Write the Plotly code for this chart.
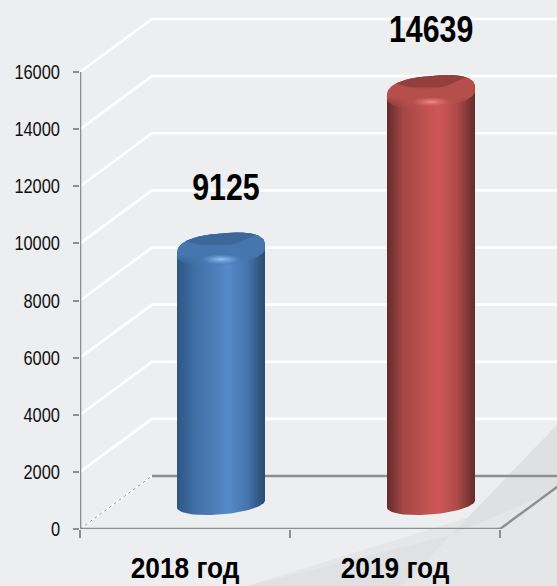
import numpy as np
import plotly.graph_objects as go

categories = ["2018 год", "2019 год"]
values = [9125, 14639]
y_ticks = [0, 2000, 4000, 6000, 8000, 10000, 12000, 14000, 16000]
label_x = [0.695, 1.672]
body_scales = [
    [[0, "#2C5685"], [0.18, "#3E6DA1"], [0.58, "#568AC9"], [0.8, "#4675AD"], [0.95, "#2F557F"], [1, "#2B4C72"]],
    [[0, "#662A2A"], [0.18, "#A34745"], [0.58, "#CF5856"], [0.8, "#AC4B48"], [0.95, "#743232"], [1, "#652C2C"]],
]
cap_colors = [("#3C6798", "rgba(70,118,174,0)"), ("#933F3E", "rgba(181,79,76,0)")]
bevel_colors = [("#4676AE", "rgba(72,120,178,0)"), ("#B54F4C", "rgba(190,80,78,0)")]
glow_colors = [("#94C3F5", "rgba(110,165,225,0)"), ("#F58E8A", "rgba(215,100,98,0)")]

W, H = 557, 586
L, B, R = 80, 57, 0
X_PX = 210.0          # px per category
Y_PX = 457.0 / 16000  # px per value unit
DX, DY = 72 / X_PX, 53 / Y_PX
xmax = (W - L) / X_PX
ymax = (H - B) / Y_PX
px, py = 1 / X_PX, 1 / Y_PX


def ellipse(cx, cy, a, b, tilt, t, power=1.0):
    c, s = np.cos(t), np.sin(t)
    c = np.sign(c) * np.abs(c) ** power
    s = np.sign(s) * np.abs(s) ** power
    return cx + a * c * px, cy + (b * s + tilt * c) * py


fig = go.Figure()


def line(xs, ys, color, width, dash="solid"):
    fig.add_trace(go.Scatter(x=xs, y=ys, mode="lines", cliponaxis=False, hoverinfo="skip",
                             line=dict(color=color, width=width, dash=dash), showlegend=False))


def poly(xs, ys, **kw):
    fig.add_trace(go.Scatter(x=list(xs), y=list(ys), mode="lines", fill="toself", hoverinfo="skip",
                             line=dict(width=0), showlegend=False, **kw))


# wall grid
for v in y_ticks[1:]:
    line([0, DX, xmax], [v, v + DY, v + DY], "#FFFFFF", 2.6)
# floor
line([0, DX], [0, DY], "#FFFFFF", 1.6)
line([0, DX], [0, DY], "#9A9A9A", 1, "dot")
line([DX, xmax], [DY, DY], "#8E8E8E", 2.4)
line([2, 2 + DX], [0, DY], "#8E8E8E", 2.4)
line([0, 2], [0, 0], "#8E8E8E", 2.6)
line([0, 0], [0, y_ticks[-1]], "#8E8E8E", 2.6)

# cylinders
A = 44
for i, v in enumerate(values):
    cx = i + 0.5 + DX / 2
    top = v + DY / 2 - 8 * py
    base = DY / 2 - 1.5 * py
    t_up = np.linspace(np.pi, 0, 70)
    t_dn = np.linspace(0, -np.pi, 50)
    bx, by = ellipse(cx, base, A, 10.5, 3.5, t_dn)
    ux, uy = ellipse(cx, top, A, 16.5, 4, t_up, power=0.78)
    poly(np.r_[ux, bx, ux[0]], np.r_[uy, by, uy[0]],
         fillgradient=dict(type="horizontal", colorscale=body_scales[i]))
    # bevel under the rounded top
    lx, ly = ellipse(cx, top - 3 * py, A, 13, 4, t_dn)
    poly(np.r_[ux, lx, ux[0]], np.r_[uy, ly, uy[0]],
         fillgradient=dict(type="vertical", colorscale=[[0, bevel_colors[i][1]], [0.35, bevel_colors[i][0]], [1, bevel_colors[i][0]]]))
    # top cap: upper edge follows the outline, lower edge is a soft arc between its ends
    keep = np.abs(ux - cx) < 36 * px
    arc_x, arc_y = ux[keep], uy[keep]
    s = np.linspace(0, 1, 40)
    low_x = arc_x[-1] + (arc_x[0] - arc_x[-1]) * s
    low_y = arc_y[-1] + (arc_y[0] - arc_y[-1]) * s - 9 * py * np.sin(np.pi * s)
    poly(np.r_[arc_x, low_x], np.r_[arc_y, low_y],
         fillgradient=dict(type="vertical", colorscale=[[0, cap_colors[i][1]], [0.2, cap_colors[i][0]], [1, cap_colors[i][0]]]))
    # glare
    t_all = np.linspace(0, 2 * np.pi, 80)
    gxs, gys = ellipse(cx, top - 9.5 * py, 20, 5, 0.5, t_all)
    poly(gxs, gys, fillgradient=dict(type="radial", colorscale=[[0, glow_colors[i][0]], [1, glow_colors[i][1]]]))

# value labels
fig.add_trace(go.Scatter(
    x=label_x,
    y=[v + 2725 for v in values],
    text=[str(v) for v in values], mode="text", textposition="middle center", cliponaxis=False,
    textfont=dict(family="Liberation Sans", size=37, color="#000000", weight="bold"),
    hoverinfo="skip", showlegend=False))


def bg(points, color):
    path = " ".join(("M" if k == 0 else "L") + f" {x} {y}" for k, (x, y) in enumerate(points)) + " Z"
    return dict(type="path", xref="x domain", yref="y domain", layer="below", line_width=0, fillcolor=color, path=path)


def norm(pts):
    return [((x - L) / (W - L), (H - B - y) / (H - B)) for x, y in pts]


shapes = [
    bg(norm([(557, 425), (402, 586), (557, 586)]), "#E5E6E8"),
    bg(norm([(247, 586), (557, 490), (557, 586)]), "#E5E6E8"),
    bg(norm([(557, 425), (451, 535), (557, 490)]), "#DFE0E2"),
    bg(norm([(247, 586), (402, 586), (451, 535)]), "#E0E1E3"),
]

fig.update_layout(
    width=W, height=H, autosize=False,
    margin=dict(l=L, r=R, t=0, b=B, pad=0),
    paper_bgcolor="#ECEEF0", plot_bgcolor="rgba(0,0,0,0)",
    showlegend=False, shapes=shapes,
    xaxis=dict(range=[0, xmax], showgrid=False, zeroline=False, showline=False,
               tickmode="array", tickvals=[0.5, 1.5], ticktext=categories, ticks="",
               ticklabelstandoff=18,
               tickfont=dict(family="Liberation Sans", size=30, color="#000000", weight="bold"),
               minor=dict(tickmode="array", tickvals=[0, 1, 2], ticks="outside", ticklen=8, tickwidth=2, tickcolor="#8E8E8E")),
    yaxis=dict(range=[0, ymax], showgrid=False, zeroline=False, showline=False,
               tickmode="array", tickvals=y_ticks, ticktext=[str(t) for t in y_ticks],
               ticks="outside", ticklen=6, tickwidth=2, tickcolor="#8E8E8E",
               ticklabelstandoff=9,
               tickfont=dict(family="Liberation Sans", size=20, color="#111111")),
)

page_fix = """
document.documentElement.style.margin = '0';
document.body.style.margin = '0';
document.body.style.overflow = 'hidden';
function squeeze(selector, factor) {
    document.querySelectorAll(selector).forEach(function (t) {
        t.setAttribute('textLength', t.getComputedTextLength() * factor);
        t.setAttribute('lengthAdjust', 'spacingAndGlyphs');
    });
}
squeeze('.ytick text, .textpoint text', 0.82);
squeeze('.xtick text', 0.875);
"""
fig.write_html("out.html", config=dict(displayModeBar=False), post_script=page_fix)
